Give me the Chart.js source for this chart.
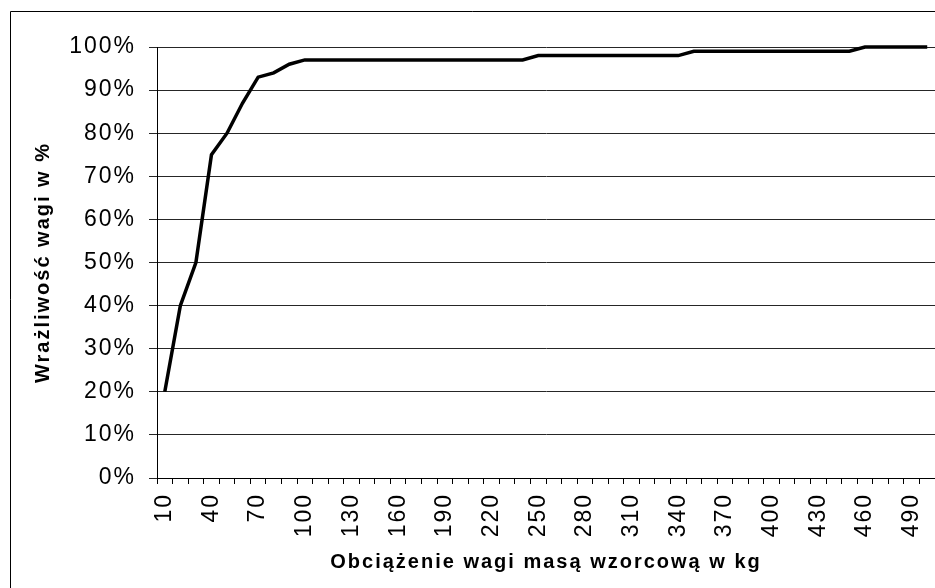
<!DOCTYPE html>
<html>
<head>
<meta charset="utf-8">
<script src="https://cdn.jsdelivr.net/npm/chart.js@4/dist/chart.umd.min.js"></script>
<style>
  html, body { margin: 0; padding: 0; background: #fff; }
  #wrap { width: 935px; height: 588px; }
</style>
</head>
<body>
<div id="wrap"><canvas id="chart"></canvas></div>
<script>
const categories = ['10', '20', '30', '40', '50', '60', '70', '80', '90', '100',
  '110', '120', '130', '140', '150', '160', '170', '180', '190', '200',
  '210', '220', '230', '240', '250', '260', '270', '280', '290', '300',
  '310', '320', '330', '340', '350', '360', '370', '380', '390', '400',
  '410', '420', '430', '440', '450', '460', '470', '480', '490', '500'];

const sensitivity = [20, 40, 50, 75, 80, 87, 93, 94, 96, 97,
  97, 97, 97, 97, 97, 97, 97, 97, 97, 97,
  97, 97, 97, 97, 98, 98, 98, 98, 98, 98,
  98, 98, 98, 98, 99, 99, 99, 99, 99, 99,
  99, 99, 99, 99, 99, 100, 100, 100, 100, 100];

const xTickLabels = ['10', '40', '70', '100', '130', '160', '190', '220', '250',
  '280', '310', '340', '370', '400', '430', '460', '490'];

const fontFamily = '"Liberation Sans", Arial, sans-serif';

// frame round the chart (only top and left are inside the picture)
const frame = {
  id: 'frame',
  beforeDraw(chart) {
    chart.ctx.letterSpacing = '2px';
  },
  afterDraw(chart) {
    const ctx = chart.ctx;
    ctx.save();
    ctx.strokeStyle = '#000';
    ctx.lineWidth = 1;
    ctx.beginPath();
    ctx.moveTo(10.5, 588);
    ctx.lineTo(10.5, 11.5);
    ctx.lineTo(935, 11.5);
    ctx.stroke();
    ctx.restore();
  }
};

new Chart(document.getElementById('chart'), {
  type: 'line',
  data: {
    labels: categories,
    datasets: [{
      data: sensitivity,
      borderColor: '#000',
      borderWidth: 3.5,
      pointRadius: 0,
      tension: 0,
      clip: false
    }]
  },
  options: {
    responsive: true,
    maintainAspectRatio: false,
    animation: false,
    layout: { padding: { top: 47, left: 0, right: 0, bottom: 0 } },
    plugins: {
      legend: { display: false },
      tooltip: { enabled: false }
    },
    scales: {
      x: {
        offset: true,
        grid: { offset: true, drawOnChartArea: false, color: '#000', tickLength: 6 },
        border: { color: '#000', width: 1 },
        ticks: {
          autoSkip: false,
          minRotation: 90,
          maxRotation: 90,
          padding: 9,
          color: '#000',
          font: { family: fontFamily, size: 23 },
          callback: function (value) {
            const lab = this.getLabelForValue(value);
            return xTickLabels.includes(lab) ? lab : '';
          }
        },
        title: {
          display: true,
          text: 'Obciążenie wagi masą wzorcową w kg',
          color: '#000',
          font: { family: fontFamily, size: 20, weight: 'bold' },
          padding: { top: 0, bottom: 14 }
        },
        afterFit(scale) {
          scale.height = 110;
          scale.paddingLeft = 0;
          scale.paddingRight = 0;
        }
      },
      y: {
        min: 0,
        max: 100,
        grid: { color: '#262626', tickLength: 8 },
        border: { color: '#000', width: 1 },
        ticks: {
          stepSize: 10,
          padding: 13,
          color: '#000',
          font: { family: fontFamily, size: 23 },
          callback: (v) => v + '%'
        },
        title: {
          display: true,
          text: 'Wrażliwość wagi w %',
          color: '#000',
          font: { family: fontFamily, size: 20, weight: 'bold' },
          padding: { top: 31, bottom: 0 }
        },
        afterFit(scale) {
          scale.width = 157;
          scale.paddingTop = 0;
          scale.paddingBottom = 0;
        }
      }
    }
  },
  plugins: [frame]
});
</script>
</body>
</html>
